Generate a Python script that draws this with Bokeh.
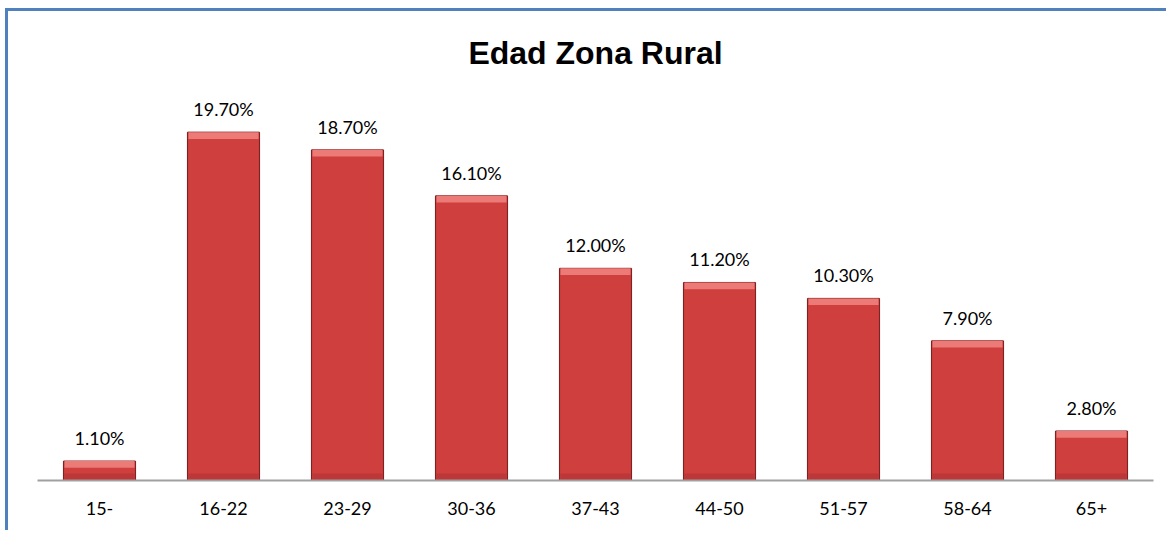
from bokeh.plotting import figure
from bokeh.models import ColumnDataSource, LabelSet, Range1d, FactorRange, Title
from bokeh.core.properties import value
from bokeh.embed import file_html
from bokeh.resources import INLINE

categories = ["15-", "16-22", "23-29", "30-36", "37-43", "44-50", "51-57", "58-64", "65+"]
values = [1.1, 19.7, 18.7, 16.1, 12.0, 11.2, 10.3, 7.9, 2.8]
labels = ["%.2f%%" % v for v in values]
title_text = "Edad Zona Rural"

src = ColumnDataSource(dict(
    cat=categories, val=values, lab=labels,
    bevel=[max(v - 0.38, 0) for v in values],
    low=[min(0.4, v) for v in values],
))

p = figure(width=1161, height=522, output_backend="svg", toolbar_location=None,
           x_range=FactorRange(*categories, range_padding=0),
           y_range=Range1d(0, 22),
           min_border_left=29, min_border_right=16, min_border_top=79, min_border_bottom=53)
p.title = None
p.add_layout(Title(text=title_text, align="center", text_font="Liberation Sans",
                   text_font_size="32px", text_font_style="bold", text_color="#000000",
                   standoff=42), "above")

p.styles = {"border-left": "3px solid #4F81BD", "border-top": "3px solid #4F81BD",
            "margin-left": "5px", "margin-top": "8px"}

# shadow
p.vbar(x="cat", top="val", bottom=0, width=0.6, source=src,
       fill_color="#000000", fill_alpha=0.07, line_color=None)
# main body
p.vbar(x="cat", top="val", bottom=0, width=0.58, source=src,
       fill_color="#CE3F3E", line_color="#7E1C1C", line_width=1)
# lower darker zone
p.vbar(x="cat", top="low", bottom=0, width=0.565, source=src,
       fill_color="#A93030", fill_alpha=0.5, line_color=None)
# top bevel
p.vbar(x="cat", top="val", bottom="bevel", width=0.565, source=src,
       fill_color="#EC7A76", line_color=None)

labs = LabelSet(x="cat", y="val", text="lab", source=src, text_align="center",
                text_baseline="bottom", y_offset=12, text_font=value("Lato"),
                text_font_size=value("18px"), text_color=value("#000000"))
p.add_layout(labs)

p.yaxis.visible = False
p.xgrid.visible = False
p.ygrid.visible = False
p.outline_line_color = None
xa = p.xaxis[0]
xa.axis_line_color = "#A0A0A0"
xa.axis_line_width = 2
xa.major_tick_line_color = None
xa.minor_tick_line_color = None
xa.major_label_text_font = "Lato"
xa.major_label_text_font_size = "18px"
xa.major_label_text_color = "#000000"
xa.major_label_standoff = 15

open("out.html", "w").write(file_html(p, INLINE))
